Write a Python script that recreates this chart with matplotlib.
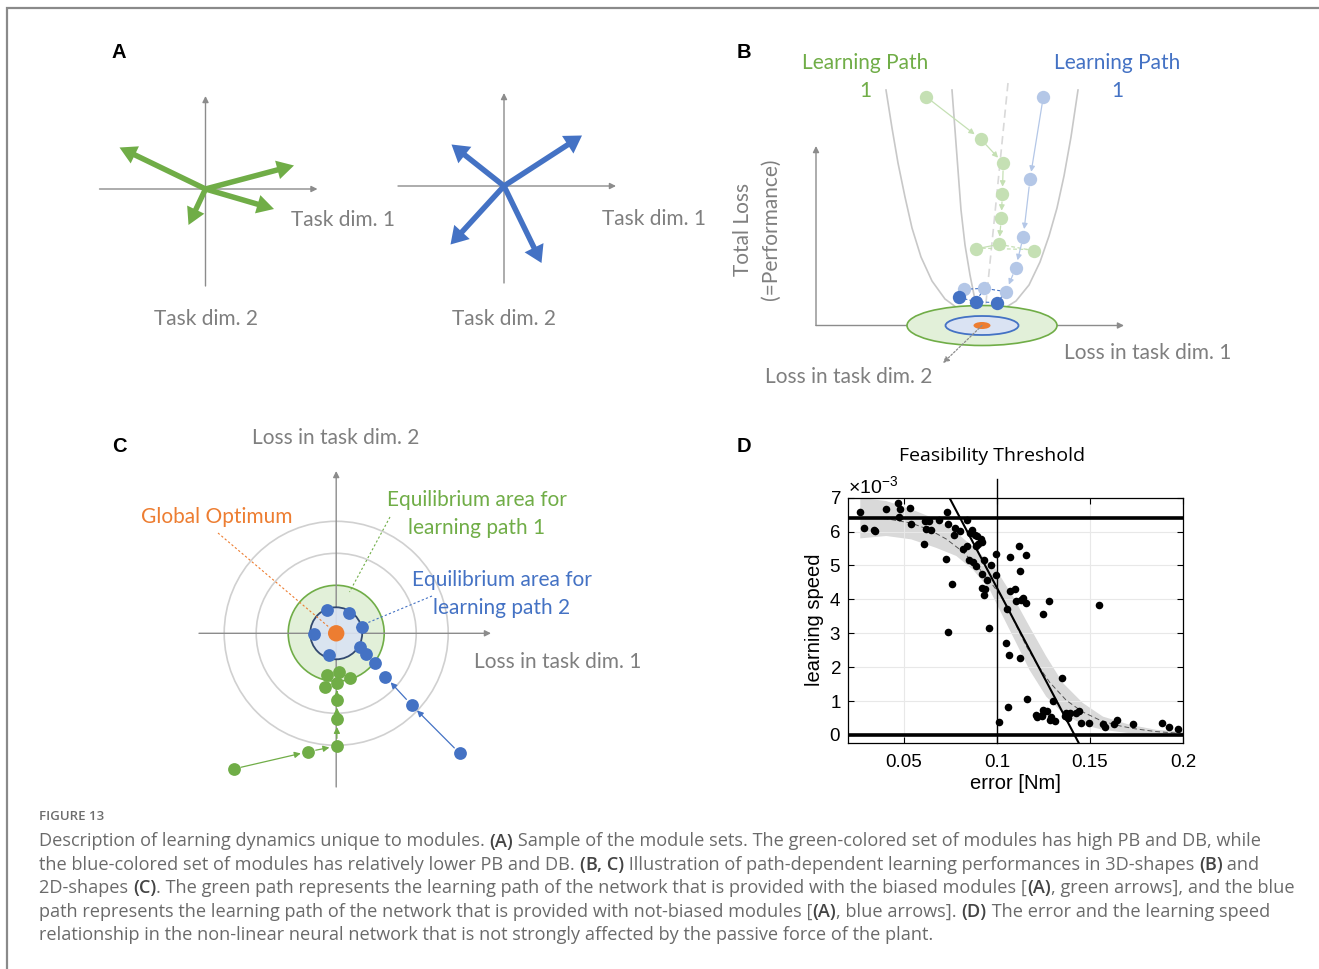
import numpy as np
import matplotlib
matplotlib.use('Agg')
import matplotlib.pyplot as plt
from matplotlib.patches import Ellipse, Circle, FancyArrowPatch
from matplotlib.ticker import ScalarFormatter

plt.rcParams['mathtext.fontset'] = 'custom'
plt.rcParams['mathtext.rm'] = 'Liberation Sans'
plt.rcParams['mathtext.it'] = 'Liberation Sans:italic'

# colours (office palette)
GREEN = '#70AD47'
BLUE = '#4472C4'
ORANGE = '#ED7D31'
LGREEN = '#C5E0B4'
LBLUE = '#B4C7E7'
FILL_GREEN = '#E2F0D9'
FILL_BLUE = '#DAE3F3'
NAVY = '#203864'
AX_GREY = '#8C8C8C'
TXT_GREY = '#7F7F7F'
DIAG_FONT = 'Lato'

# ---- panel A : module vectors (page pixel coordinates) ----
a_green_origin = (205.5, 189.0)
a_green_tips = [(119.5, 147.5), (294.0, 165.5), (274.0, 209.0), (188.5, 225.0)]
a_blue_origin = (504.0, 186.0)
a_blue_tips = [(451.5, 144.5), (582.0, 135.5), (450.5, 244.5), (541.5, 263.0)]

# ---- panel B : loss landscape ----
b_outer_x = [886, 892, 898, 905, 912, 921, 932, 945, 960, 980, 1000, 1016, 1029, 1040, 1049, 1057, 1064, 1071, 1078]
b_outer_y = [90, 128, 163, 197, 228, 257, 281, 299, 310, 315, 311, 301, 285, 262, 236, 208, 176, 137, 90]
b_inner_x = [952, 955, 958, 961, 965, 970, 975, 979]
b_inner_y = [90, 130, 170, 210, 245, 275, 300, 316]
b_green_x = [926, 980.7, 1003.3, 1002.3, 1001.3, 999.0]
b_green_y = [96.7, 139.0, 163.3, 194.3, 218.3, 244.3]
b_green_side_x = [975.7, 1034.0]
b_green_side_y = [249.0, 250.7]
b_blue_x = [1043.3, 1030.0, 1023.3, 1015.7, 1006.0]
b_blue_y = [96.7, 179.3, 236.7, 267.7, 291.7]
b_blue_light_x = [984.3, 964.0]
b_blue_light_y = [288.3, 289.3]
b_blue_dark_x = [958.7, 975.7, 996.7]
b_blue_dark_y = [297.3, 301.7, 302.7]
b_centre = (982.0, 325.5)

# ---- panel C : top view ----
c_centre = (336.2, 633.3)
c_ring_radii = [112, 80]
c_green_area_r = 48
c_blue_area_r = 26
c_blue_x = [326.9, 349.1, 362.0, 314.3, 329.0, 359.5, 366.3, 374.6, 385.4, 411.6, 459.7]
c_blue_y = [610.0, 612.7, 626.7, 634.3, 655.0, 646.7, 654.3, 662.7, 676.7, 705.0, 753.3]
c_green_x = [326.9, 338.7, 350.2, 325.4, 336.9, 336.9, 336.9, 336.9, 308.2, 233.5]
c_green_y = [675.0, 672.3, 677.7, 686.7, 682.7, 700.0, 719.3, 746.0, 751.7, 769.0]

# ---- panel D : error vs learning speed ----
err = [0.0266, 0.0284, 0.0338, 0.0347, 0.0406, 0.0470, 0.0474, 0.0481, 0.0533, 0.0539,
       0.0607, 0.0612, 0.0617, 0.0635, 0.0644, 0.0687, 0.0725, 0.0732, 0.0737, 0.0739,
       0.0759, 0.0773, 0.0770, 0.0800, 0.0818, 0.0839, 0.0841, 0.0850, 0.0857, 0.0868,
       0.0872, 0.0881, 0.0886, 0.0890, 0.0893, 0.0899, 0.0915, 0.0918, 0.0918, 0.0931,
       0.0922, 0.0934, 0.0929, 0.0947, 0.0958, 0.0968, 0.0997, 0.0997, 0.1011, 0.1047,
       0.1056, 0.1065, 0.1062, 0.1071, 0.1072, 0.1096, 0.1101, 0.1119, 0.1126, 0.1126,
       0.1131, 0.1140, 0.1155, 0.1158, 0.1162, 0.1208, 0.1214, 0.1242, 0.1248, 0.1248,
       0.1269, 0.1280, 0.1284, 0.1293, 0.1310, 0.1302, 0.1350, 0.1364, 0.1373, 0.1391,
       0.1427, 0.1441, 0.1454, 0.1493, 0.1549, 0.1570, 0.1583, 0.1628, 0.1645, 0.1731,
       0.1889, 0.1925, 0.1975, 0.1380, 0.1240]
speed = [6.59, 6.11, 6.05, 6.02, 6.68, 6.83, 6.44, 6.68, 6.71, 6.23,
         5.62, 6.31, 6.08, 6.31, 6.05, 6.33, 5.18, 6.58, 3.03, 6.21,
         4.46, 6.11, 5.89, 6.02, 5.49, 6.34, 5.57, 5.15, 5.95, 6.05,
         5.10, 5.89, 5.57, 4.98, 5.87, 5.62, 5.77, 5.69, 4.76, 5.16,
         4.34, 4.31, 4.14, 4.56, 3.16, 5.00, 5.33, 4.73, 0.39, 2.71,
         3.73, 2.37, 0.82, 5.25, 4.24, 4.31, 3.96, 5.57, 4.83, 2.27,
         3.99, 4.04, 5.30, 3.90, 1.06, 0.59, 0.52, 0.56, 0.74, 3.58,
         0.71, 3.94, 0.44, 0.52, 0.41, 0.99, 1.68, 0.56, 0.64, 0.64,
         0.64, 0.72, 0.35, 0.35, 3.83, 0.33, 0.22, 0.33, 0.44, 0.33,
         0.35, 0.23, 0.18, 0.50, 0.60]
fit_err = [0.0266, 0.0406, 0.0540, 0.0639, 0.0728, 0.0818, 0.0899, 0.0960, 0.1029, 0.1070,
           0.1113, 0.1160, 0.1212, 0.1284, 0.1373, 0.1460, 0.1552, 0.1640, 0.1731, 0.1850, 0.2000]
fit_speed = [6.41, 6.38, 6.25, 6.05, 5.78, 5.40, 4.95, 4.55, 4.05, 3.62,
             3.12, 2.60, 2.12, 1.55, 1.02, 0.68, 0.44, 0.29, 0.19, 0.10, 0.04]
band_hi_err = [0.0266, 0.0406, 0.0540, 0.0674, 0.0782, 0.0889, 0.0996, 0.1086, 0.1175, 0.1265,
               0.1355, 0.1462, 0.1570, 0.1713, 0.1856, 0.2000]
band_hi = [7.00, 6.90, 6.66, 6.36, 5.97, 5.47, 4.88, 4.09, 3.20, 2.32,
           1.53, 0.94, 0.54, 0.30, 0.15, 0.10]
band_lo_err = [0.0266, 0.0406, 0.0540, 0.0674, 0.0782, 0.0871, 0.0961, 0.1032, 0.1104, 0.1175,
               0.1265, 0.1355, 0.1462, 0.1570, 0.1713, 0.2000]
band_lo = [5.80, 5.87, 5.77, 5.52, 5.28, 4.88, 4.29, 3.50, 2.71, 1.92,
           1.13, 0.64, 0.30, 0.15, 0.05, 0.00]
trend_err = [0.0743, 0.1441]
trend_speed = [7.02, -0.25]
threshold_err = 0.1
speed_levels = [6.4, 0.0]
x_ticks = [0.05, 0.1, 0.15, 0.2]
x_tick_labels = ['0.05', '0.1', '0.15', '0.2']
y_ticks = [0, 1, 2, 3, 4, 5, 6, 7]

caption_lines = [
    [("Description of learning dynamics unique to modules. ", False), ("(A)", True),
     (" Sample of the module sets. The green-colored set of modules has high PB and DB, while", False)],
    [("the blue-colored set of modules has relatively lower PB and DB. ", False), ("(B, C)", True),
     (" Illustration of path-dependent learning performances in 3D-shapes ", False), ("(B)", True), (" and", False)],
    [("2D-shapes ", False), ("(C)", True),
     (". The green path represents the learning path of the network that is provided with the biased modules [", False),
     ("(A)", True), (", green arrows], and the blue", False)],
    [("path represents the learning path of the network that is provided with not-biased modules [", False),
     ("(A)", True), (", blue arrows]. ", False), ("(D)", True), (" The error and the learning speed", False)],
    [("relationship in the non-linear neural network that is not strongly affected by the passive force of the plant.", False)],
]

W, H = 1319, 969
fig = plt.figure(figsize=(W / 100, H / 100), dpi=100)
base = fig.add_axes([0, 0, 1, 1])
base.set_xlim(0, W)
base.set_ylim(H, 0)
base.axis('off')

# page frame
base.plot([7, 7, W], [H, 8, 8], color='#8A8A8A', lw=1.6, solid_joinstyle='miter')


def axis_arrow(p0, p1, color=AX_GREY, lw=1.0, ls='-', ms=9, z=1):
    base.add_patch(FancyArrowPatch(p0, p1, arrowstyle='-|>', mutation_scale=ms, color=color,
                                   lw=lw, linestyle=ls, shrinkA=0, shrinkB=0, zorder=z))


def step_arrow(p0, p1, color, lw=0.9, ms=8, shrink=5.5, z=3):
    base.add_patch(FancyArrowPatch(p0, p1, arrowstyle='-|>', mutation_scale=ms, color=color,
                                   lw=lw, shrinkA=shrink, shrinkB=shrink, zorder=z))


def label(x, y, s, color=TXT_GREY, size=15, **kw):
    kw.setdefault('ha', 'center')
    kw.setdefault('va', 'center')
    base.text(x, y, s, color=color, fontsize=size, family=DIAG_FONT, **kw)


def panel_letter(x, y, s):
    base.text(x, y, s, fontsize=14.5, fontweight='bold', family='Liberation Sans', ha='center', va='center')


# ================= A =================
panel_letter(119, 52, 'A')
for (ox, oy), tips, col, hw in [(a_green_origin, a_green_tips, GREEN, 19),
                                (a_blue_origin, a_blue_tips, BLUE, 21)]:
    axis_arrow((ox - 106, oy), (ox + 112, oy))
    axis_arrow((ox, oy + 97), (ox, oy - 93))
    for tx, ty in tips:
        base.arrow(ox, oy, tx - ox, ty - oy, width=5.5, head_width=hw, head_length=17,
                   length_includes_head=True, color=col, lw=0, zorder=3)
label(291, 220, 'Task dim. 1', ha='left')
label(206, 319, 'Task dim. 2')
label(602, 219, 'Task dim. 1', ha='left')
label(504, 319, 'Task dim. 2')

# ================= B =================
panel_letter(744, 52, 'B')
label(865, 63, 'Learning Path', color=GREEN)
label(865, 91, '1', color=GREEN)
label(1117, 63, 'Learning Path', color=BLUE)
label(1117, 91, '1', color=BLUE)
label(743, 229, 'Total Loss', rotation=90)
label(771, 229, '(=Performance)', rotation=90)
label(1064, 353, 'Loss in task dim. 1', ha='left')
label(849, 377, 'Loss in task dim. 2')

axis_arrow((816, b_centre[1]), (816, 146))
axis_arrow((816, b_centre[1]), (1124, b_centre[1]))
base.plot(b_outer_x, b_outer_y, color='#C8C8C8', lw=1.2, zorder=1)
base.plot(b_inner_x, b_inner_y, color='#C8C8C8', lw=1.2, zorder=1)
base.plot([1008, b_centre[0] + 2], [83, b_centre[1] - 3], color='#D9D9D9', lw=1.2, ls=(0, (5, 3)), zorder=1)
base.add_patch(Ellipse(b_centre, 150, 40, fc=FILL_GREEN, ec=GREEN, lw=1.2, zorder=2))
base.add_patch(Ellipse(b_centre, 73, 19, fc=FILL_BLUE, ec=BLUE, lw=1.3, zorder=2))
base.add_patch(Ellipse(b_centre, 17, 7, fc=ORANGE, ec='none', zorder=2))
axis_arrow(b_centre, (943, 363), color='#8C8C8C', lw=0.9, ls=(0, (1.5, 1.5)), ms=9, z=2)

for i in range(len(b_green_x) - 1):
    step_arrow((b_green_x[i], b_green_y[i]), (b_green_x[i + 1], b_green_y[i + 1]), LGREEN)
gx6, gy6 = b_green_x[-1], b_green_y[-1]
base.plot([b_green_side_x[0], gx6], [b_green_side_y[0], gy6], color=LGREEN, lw=0.9, zorder=3)
base.plot([gx6, b_green_side_x[1]], [gy6, b_green_side_y[1]], color=LGREEN, lw=0.9, ls=(0, (3, 2)), zorder=3)
base.plot(b_green_side_x, [b_green_side_y[0] - 1, b_green_side_y[1] - 1], color=LGREEN, lw=0.9, ls=(0, (3, 2)), zorder=3)
base.plot(b_green_x + b_green_side_x, b_green_y + b_green_side_y, 'o', ms=9.6, color=LGREEN, mec='none', zorder=4)

for i in range(len(b_blue_x) - 1):
    step_arrow((b_blue_x[i], b_blue_y[i]), (b_blue_x[i + 1], b_blue_y[i + 1]), LBLUE)
cl_x = [b_blue_x[-1]] + b_blue_light_x
cl_y = [b_blue_y[-1]] + b_blue_light_y
base.plot(cl_x, cl_y, color=BLUE, lw=0.8, ls=(0, (3, 2)), zorder=3)
base.plot(b_blue_dark_x, b_blue_dark_y, color=BLUE, lw=0.8, ls=(0, (3, 2)), zorder=3)
for k in range(3):
    base.plot([cl_x[k], b_blue_dark_x[2 - k]], [cl_y[k], b_blue_dark_y[2 - k]], color=BLUE, lw=0.8, ls=(0, (3, 2)), zorder=3)
base.plot(cl_x + [b_blue_x[0], b_blue_x[1], b_blue_x[2], b_blue_x[3]],
          cl_y + [b_blue_y[0], b_blue_y[1], b_blue_y[2], b_blue_y[3]], 'o', ms=9.6, color=LBLUE, mec='none', zorder=4)
base.plot(b_blue_dark_x, b_blue_dark_y, 'o', ms=9.6, color=BLUE, mec='none', zorder=5)

# ================= C =================
panel_letter(119, 447, 'C')
label(336, 438, 'Loss in task dim. 2')
label(474, 662, 'Loss in task dim. 1', ha='left')
for r in c_ring_radii:
    base.add_patch(Circle(c_centre, r, fill=False, ec='#D0D0D0', lw=1.2, zorder=1))
base.add_patch(Circle(c_centre, c_green_area_r, fc=FILL_GREEN, ec=GREEN, lw=1.2, zorder=1))
axis_arrow((c_centre[0], 787), (c_centre[0], 471), z=2)
axis_arrow((199, c_centre[1]), (491, c_centre[1]), z=2)
base.add_patch(Circle(c_centre, c_blue_area_r, fc=FILL_BLUE, ec=NAVY, lw=1.3, alpha=0.9, zorder=2))
base.add_patch(Circle(c_centre, 8.2, fc=ORANGE, ec='none', zorder=5))

label(217, 517, 'Global Optimum', color=ORANGE)
label(477, 500, 'Equilibrium area for', color=GREEN)
label(477, 528, 'learning path 1', color=GREEN)
label(502, 580, 'Equilibrium area for', color=BLUE)
label(502, 608, 'learning path 2', color=BLUE)
base.plot([218, 330], [533, 628], color=ORANGE, lw=0.8, ls=(0, (2, 2)), zorder=3)
base.plot([390, 349.5], [517, 592], color=GREEN, lw=0.8, ls=(0, (2, 2)), zorder=3)
base.plot([432, 355], [596, 628], color=BLUE, lw=0.8, ls=(0, (2, 2)), zorder=3)

for i in (10, 9):
    step_arrow((c_blue_x[i], c_blue_y[i]), (c_blue_x[i - 1], c_blue_y[i - 1]), BLUE, ms=9)
for i in (9, 8, 7, 6, 5):
    step_arrow((c_green_x[i], c_green_y[i]), (c_green_x[i - 1], c_green_y[i - 1]), GREEN, ms=9)
base.plot(c_blue_x, c_blue_y, 'o', ms=9.2, color=BLUE, mec='none', zorder=4)
base.plot(c_green_x, c_green_y, 'o', ms=9.2, color=GREEN, mec='none', zorder=4)

# ================= D =================
panel_letter(744, 447, 'D')
ax = fig.add_axes([848 / W, (H - 742.7) / H, 335 / W, 245 / H])
ax.fill(band_hi_err + band_lo_err[::-1], [v * 1e-3 for v in band_hi + band_lo[::-1]],
        color='#D9D9D9', lw=0, zorder=1)
ax.plot(fit_err, [v * 1e-3 for v in fit_speed], color='#555555', lw=0.7, ls=(0, (5, 3)), zorder=2)
ax.scatter(err, [v * 1e-3 for v in speed], s=30, color='black', zorder=4, lw=0)
for lv in speed_levels:
    ax.axhline(lv * 1e-3, color='black', lw=2.6, zorder=3)
ax.plot(trend_err, [v * 1e-3 for v in trend_speed], color='black', lw=1.5, zorder=3)
ax.plot([threshold_err, threshold_err], [-0.23e-3, 7.55e-3], color='black', lw=1.0, zorder=3, clip_on=False)
ax.set_xlim(0.02, 0.2)
ax.set_ylim(-0.23e-3, 7e-3)
ax.set_xticks(x_ticks)
ax.set_xticklabels(x_tick_labels)
ax.set_yticks([t * 1e-3 for t in y_ticks])
fmt = ScalarFormatter(useMathText=True)
fmt.set_powerlimits((-2, 2))
ax.yaxis.set_major_formatter(fmt)
ax.yaxis.get_offset_text().set_fontsize(14)
ax.yaxis.get_offset_text().set_family('Liberation Sans')
ax.grid(True, color='#E8E8E8', lw=0.8, zorder=0)
ax.tick_params(direction='in', top=True, right=True, length=4, width=0.8, labelsize=13.5)
ax.tick_params(axis='x', pad=8)
ax.tick_params(axis='y', pad=5)
for t in ax.get_xticklabels() + ax.get_yticklabels():
    t.set_family('Liberation Sans')
for sp in ax.spines.values():
    sp.set_linewidth(0.9)
ax.set_xlabel('error [Nm]', fontsize=14.5, family='Liberation Sans', labelpad=2)
ax.set_ylabel('learning speed', fontsize=14.5, family='Liberation Sans', labelpad=4)
base.text(992, 456, 'Feasibility Threshold', fontsize=14, family='Open Sans', ha='center', va='center')

# ================= caption =================
renderer = fig.canvas.get_renderer()
CAP_FONT = 'Open Sans'
BOLD = 'semibold'


def text_width(s, size, bold):
    wt = BOLD if bold else 'normal'
    t = base.text(0, 0, s + '|', fontsize=size, family=CAP_FONT, fontweight=wt)
    w = t.get_window_extent(renderer).width
    t.remove()
    bar = base.text(0, 0, '|', fontsize=size, family=CAP_FONT, fontweight=wt)
    w -= bar.get_window_extent(renderer).width
    bar.remove()
    return w


first_w = sum(text_width(s, 10, b) for s, b in caption_lines[2])
cap_size = 10 * 1256 / first_w

base.text(39, 817, 'FIGURE 13', fontsize=9.5, family=CAP_FONT, fontweight='semibold', color='#6E6E6E',
          ha='left', va='center')
for row, parts in enumerate(caption_lines):
    x = 39
    y = 841.5 + row * 23.4
    for s, b in parts:
        base.text(x, y, s, fontsize=cap_size, family=CAP_FONT, fontweight=BOLD if b else 'normal',
                  color='#444444' if b else '#6A6A6A', ha='left', va='center')
        x += text_width(s, cap_size, b)

fig.savefig('out.png', dpi=100)
